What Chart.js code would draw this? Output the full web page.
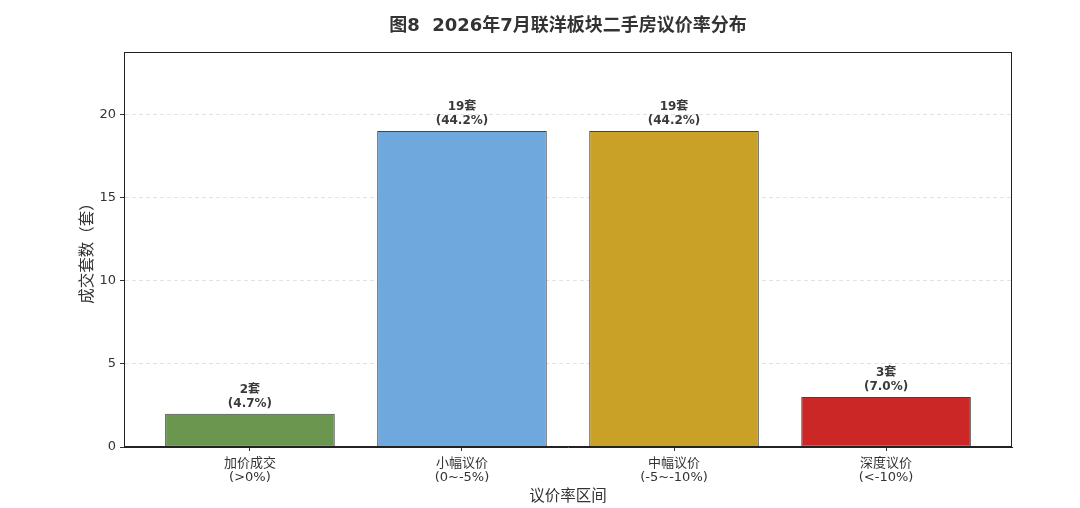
<!DOCTYPE html>
<html>
<head>
<meta charset="utf-8">
<script src="https://cdn.jsdelivr.net/npm/chart.js@4.4.1/dist/chart.umd.min.js"></script>
<style>
html,body{margin:0;padding:0;background:#fff;}
#wrap{width:1080px;height:508px;position:relative;}
</style>
</head>
<body>
<div id="wrap"><canvas id="c" width="1080" height="508"></canvas></div>
<script>
const titleText = '图8  2026年7月联洋板块二手房议价率分布';
const categories = [['加价成交','(>0%)'], ['小幅议价','(0~-5%)'], ['中幅议价','(-5~-10%)'], ['深度议价','(<-10%)']];
const counts = [2, 19, 19, 3];
const percents = ['4.7%', '44.2%', '44.2%', '7.0%'];
const barColors = ['#6a9650', '#6fa8dc', '#c9a126', '#cc2727'];
const yTicks = [0, 5, 10, 15, 20];
const FONT = "'DejaVu Sans', 'Noto Sans CJK SC', sans-serif";

const labelPlugin = {
  id: 'labels',
  afterDatasetsDraw(chart) {
    const ctx = chart.ctx;
    const meta = chart.getDatasetMeta(0);
    ctx.save();
    ctx.fillStyle = '#3a3a3a';
    ctx.font = 'bold 12px ' + FONT;
    ctx.textAlign = 'center';
    ctx.textBaseline = 'middle';
    meta.data.forEach((bar, i) => {
      ctx.fillText(counts[i] + '套', bar.x, bar.y - 24);
      ctx.fillText('(' + percents[i] + ')', bar.x, bar.y - 10);
    });
    ctx.restore();
  },
  afterDraw(chart) {
    const ctx = chart.ctx;
    const a = chart.chartArea;
    ctx.save();
    ctx.strokeStyle = '#222';
    ctx.lineWidth = 1;
    ctx.strokeRect(a.left + 0.5, a.top + 0.5, a.right - a.left - 1, a.bottom - a.top - 1);
    ctx.fillStyle = '#333';
    ctx.font = 'bold 18px ' + FONT;
    ctx.textAlign = 'center';
    ctx.textBaseline = 'middle';
    ctx.fillText(titleText, (a.left + a.right) / 2, 26);
    ctx.restore();
  }
};

new Chart(document.getElementById('c'), {
  type: 'bar',
  data: {
    datasets: [{
      data: counts.map((v, i) => ({x: i, y: v})),
      backgroundColor: barColors,
      borderColor: '#444',
      borderWidth: 1,
      borderSkipped: false,
      barPercentage: 0.8,
      categoryPercentage: 1.0
    }]
  },
  options: {
    responsive: false,
    animation: false,
    devicePixelRatio: 1,
    layout: {padding: {top: 52, right: 68, left: 0, bottom: 0}},
    plugins: {legend: {display: false}, tooltip: {enabled: false}, title: {display: false}},
    scales: {
      x: {
        type: 'linear',
        min: -0.594,
        max: 3.594,
        offset: false,
        afterBuildTicks: s => { s.ticks = categories.map((c, i) => ({value: i})); },
        afterFit: s => { s.height = 61; },
        grid: {offset: false, drawOnChartArea: false, drawTicks: true, tickLength: 4, tickColor: '#333', color: '#333'},
        border: {display: true, color: '#222'},
        ticks: {
          callback: (v) => categories[v],
          color: '#333',
          font: {family: FONT, size: 13, lineHeight: 1.08},
          padding: 6,
          maxRotation: 0,
          autoSkip: false
        },
        title: {display: true, text: '议价率区间', color: '#333', font: {family: FONT, size: 15.5}, padding: {top: 0, bottom: 2}}
      },
      y: {
        min: 0,
        max: 23.75,
        afterBuildTicks: s => { s.ticks = yTicks.map(v => ({value: v})); },
        afterFit: s => { s.width = 124; },
        grid: {
          color: (c) => c.tick && c.tick.value === 0 ? 'rgba(0,0,0,0)' : '#e3e3e3',
          tickLength: 4,
          tickColor: '#333',
          tickBorderDash: [],
          drawTicks: true
        },
        border: {display: true, color: '#222', dash: [4, 3]},
        ticks: {color: '#333', font: {family: FONT, size: 13}, padding: 4},
        title: {display: true, text: '成交套数（套）', color: '#333', font: {family: FONT, size: 15.5}, padding: {top: 79}}
      }
    }
  },
  plugins: [labelPlugin]
});
</script>
</body>
</html>
